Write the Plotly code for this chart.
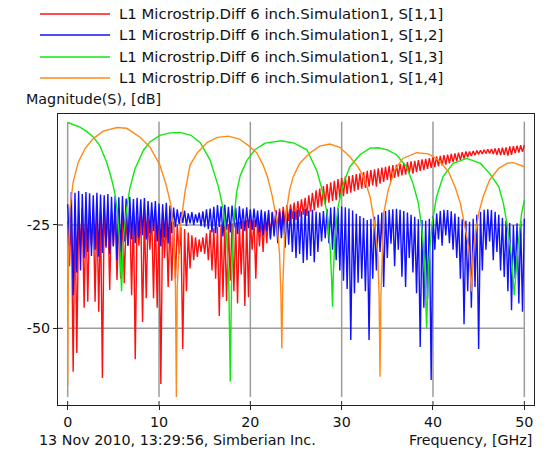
import numpy as np
import plotly.graph_objects as go

# ---------------------------------------------------------------------------
# Data: magnitude of S-parameters, dB, versus frequency, GHz
# ---------------------------------------------------------------------------
SERIES_NAMES = [
    "L1 Microstrip.Diff 6 inch.Simulation1, S[1,1]",
    "L1 Microstrip.Diff 6 inch.Simulation1, S[1,2]",
    "L1 Microstrip.Diff 6 inch.Simulation1, S[1,3]",
    "L1 Microstrip.Diff 6 inch.Simulation1, S[1,4]",
]
SERIES_COLORS = ["#ff1010", "#1010ff", "#10e810", "#ff8a1a"]

# S[1,1] and S[1,2] ripple: local maxima every 0.4 GHz starting at 0 GHz,
# local minima every 0.4 GHz starting at 0.2 GHz
RIPPLE_STEP_GHZ = 0.4

S11_MAX = [
    -24, -21, -20.5, -22, -21, -20.8, -22, -21.2, -20.6, -21.5,
    -21, -20.5, -22, -21.5, -22.5, -21.8, -23, -22.2, -21.6, -23,
    -22.5, -21.8, -23, -22.2, -21.5, -22.8, -22, -23, -23.5, -24.2,
    -24.8, -25.5, -26, -26.8, -27.5, -28, -28.5, -28, -27, -26.2,
    -25.8, -25.4, -25, -25.2, -24.8, -24.6, -24.4, -24.2, -24, -23.8,
    -23.5, -23.8, -23.2, -23, -22.6, -22.2, -21.8, -21.4, -21, -20.6,
    -20.2, -20, -19.6, -19.2, -18.8, -18.4, -17.8, -17.2, -16.6, -16.2,
    -15.6, -15.1, -14.7, -14.3, -13.9, -13.6, -13.3, -13.1, -12.9, -12.7,
    -12.5, -12.2, -11.9, -11.7, -11.5, -11.3, -11.1, -10.9, -10.7, -10.5,
    -10.4, -10.2, -10, -9.8, -9.6, -9.5, -9.3, -9.1, -9, -8.8,
    -8.6, -8.4, -8.3, -8.1, -8, -7.8, -7.7, -7.5, -7.4, -7.2,
    -7.2, -7.1, -7, -6.9, -6.8, -6.7, -6.6, -6.5, -6.4, -6.3,
    -6.2, -6, -5.9, -5.8, -5.7, -5.6,
]
S11_MIN = [
    -35, -60.5, -56, -30, -45, -43.6, -30, -43.6, -46, -62,
    -30, -40.7, -30, -38.3, -38, -39.1, -30, -42, -57.5, -30,
    -48.5, -42.7, -31, -42.7, -45, -63.5, -33, -40, -38.5, -38,
    -32, -55, -41, -35.5, -33.5, -32.7, -31.5, -32, -33.5, -36,
    -38, -47, -42.4, -43.4, -38.5, -41, -44, -37, -44.6, -42.5,
    -31, -38, -30.2, -31.5, -29.4, -28, -27, -26.2, -25.5, -24.8,
    -24, -23.5, -23.8, -23, -22.5, -22.8, -21.8, -21.5, -20.8, -20.5,
    -20, -19.6, -19.2, -19, -18.4, -18, -17.5, -17.2, -16.8, -16.5,
    -16.2, -16, -15.7, -15.4, -15.7, -15, -14.6, -14.1, -14.4, -13.6,
    -13.3, -13, -12.8, -12.5, -12.6, -12.2, -11.9, -11.7, -11.4, -11.2,
    -11, -10.8, -10.6, -10.4, -10.1, -9.8, -9.6, -9.3, -8.9, -8.6,
    -8.3, -8.1, -7.9, -7.8, -7.7, -7.7, -7.8, -8, -8.1, -8,
    -8.2, -8, -7.6, -7.5, -7.3,
]

S12_MAX = [
    -20, -17, -17.2, -16.8, -17.5, -17, -17.3, -17.8, -17.2, -17.6,
    -17.8, -17.5, -18.2, -17.9, -18.3, -18, -18.6, -18.2, -18.7, -18.4,
    -18.8, -18.5, -19.2, -19.5, -19.2, -19.8, -20, -19.6, -20.3, -20.8,
    -21.2, -21.8, -21.5, -22.2, -21.9, -22.4, -22, -21.7, -21.2, -21,
    -20.6, -20.2, -20.5, -20.1, -20.6, -20.3, -20.8, -20.5, -21, -20.7,
    -21.2, -21, -21.5, -21.3, -21.7, -21.4, -21.9, -21.5, -21.8, -21.6,
    -21.5, -21.2, -21.6, -21.3, -21.7, -21.1, -21.5, -21.3, -21.8, -22,
    -21.6, -21.2, -20.8, -20.6, -20.9, -20.5, -20.7, -21, -21.5, -22.3,
    -22.8, -23.3, -23.8, -23.5, -23, -22.5, -22, -21.6, -21.3, -21.2,
    -21.1, -21.3, -21.6, -22, -22.5, -23, -23.6, -23.8, -24, -23.5,
    -22.8, -22.2, -21.6, -21.3, -21.4, -21.7, -22.2, -23, -23.6, -24,
    -24.2, -23.5, -22.5, -21.8, -21.3, -21.2, -21.4, -21.8, -22.5, -23.3,
    -24, -24.5, -25, -24.6, -24, -23.5,
]
S12_MIN = [
    -30, -42, -36.5, -36, -33, -31.5, -32.5, -31, -32.7, -31.8,
    -30.5, -32, -30.2, -33.5, -31.5, -29, -30, -28.5, -29.4, -28,
    -27.5, -28.5, -27, -26.5, -29, -30.2, -28, -29.5, -27, -25.5,
    -24.8, -24.5, -25.2, -24.6, -25, -24.4, -25.3, -25.5, -26, -26.8,
    -27, -25.5, -27.8, -26.2, -26.8, -25.6, -27.2, -26, -26.5, -25.8,
    -26.2, -25.5, -26.8, -27.5, -26.5, -28.5, -27.8, -29.4, -28.2, -30.5,
    -29.8, -31.5, -33, -32, -34.2, -33.5, -32.5, -34, -31.5, -29,
    -28.2, -29.4, -31, -33.5, -36, -38.5, -40.5, -52.8, -41.5, -39,
    -38, -41, -52.8, -38, -36, -31.5, -40, -33, -29.5, -35,
    -31, -37.5, -40, -33, -36.5, -41.5, -54.5, -45, -43, -62.5,
    -31, -28.5, -30, -27.5, -29.4, -31, -33, -38, -49, -41,
    -45, -40, -55, -36, -31, -29, -33.5, -31.5, -36, -37.6,
    -41, -45.6, -38, -44, -46,
]

# S[1,3] and S[1,4]: smooth curves with periodic nulls
S13_F = [
    0, 0.7, 1.35, 2.1, 2.8, 3.5, 4.27, 4.8, 5.2, 5.45,
    5.65, 5.8, 5.9, 6.0, 6.15, 6.46, 6.8, 7.37, 8.3, 9.0,
    10.1, 11.2, 12.3, 13.5, 14.5, 15.6, 16.5, 17.05, 17.4, 17.65,
    17.8, 17.95, 18.15, 18.5, 18.9, 19.6, 20.5, 21.6, 23.4, 24.8,
    26.2, 27.3, 27.8, 28.4, 28.75, 28.9, 29.0, 29.1, 29.3, 29.6,
    30.2, 30.9, 32.0, 33.1, 34.0, 35.0, 36.0, 37.1, 37.8, 38.4,
    38.8, 39.1, 39.3, 39.5, 39.9, 40.4, 41.1, 42.2, 43.7, 45.2,
    46.2, 47.2, 47.7, 48.1, 48.6, 48.9, 49.3, 49.7, 50.0,
]
S13_DB = [
    -0.2, -0.7, -1.3, -2.4, -3.7, -5.7, -9.8, -13.8, -17.7, -22,
    -28, -35, -41, -35, -27, -21, -16.2, -11.4, -6.9, -4.9,
    -3.3, -2.7, -2.6, -3.3, -5, -9.3, -15.7, -21.4, -27.8, -40,
    -62.9, -38, -25, -17, -13, -9.5, -6.8, -5.2, -4.6, -5.2,
    -6.8, -12, -16, -22, -31, -38, -44.8, -36, -27, -20.6,
    -14.9, -10.9, -8, -6.4, -6.3, -6.8, -8, -10.9, -14.9, -19.7,
    -26.2, -35, -50, -35, -24.6, -18.1, -13.3, -10.1, -8.9, -10.1,
    -12.5, -15.7, -19.7, -24.6, -32.7, -42, -30.2, -22.2, -19,
]

S14_F = [
    0, 0.08, 0.25, 0.6, 1.16, 1.9, 2.8, 3.9, 5.4, 6.46,
    7.9, 9.0, 10.1, 10.8, 11.3, 11.6, 11.8, 11.9, 12.0, 12.3,
    12.85, 13.4, 14.2, 15.3, 16.4, 17.6, 18.8, 19.8, 20.7, 21.4,
    21.9, 22.4, 22.9, 23.2, 23.35, 23.45, 23.55, 23.75, 24.0, 24.3,
    24.7, 25.4, 26.5, 27.6, 28.7, 29.8, 30.9, 31.8, 32.4, 33.1,
    33.6, 33.95, 34.1, 34.2, 34.3, 34.45, 34.6, 35.1, 35.8, 36.7,
    38.2, 39.5, 40.6, 41.7, 42.4, 43.0, 43.5, 43.9, 44.2, 44.4,
    44.6, 45.0, 45.5, 46.2, 47.2, 48.1, 48.8, 50.0,
]
S14_DB = [
    -64, -35, -21, -14.6, -9.8, -6.5, -4.1, -2.3, -1.4, -1.6,
    -3.7, -6.1, -10.5, -15.4, -20.2, -27, -40, -66.6, -40, -26,
    -17, -10.5, -7.5, -5, -3.8, -3.5, -4.2, -5.8, -7.5, -10.5,
    -13.5, -18, -24, -32, -42, -54.9, -40, -28, -21, -16.5,
    -13.3, -10.1, -7.6, -5.9, -5.4, -6.2, -8.5, -11, -13.3, -18.1,
    -24.6, -32, -42, -61.7, -42, -30, -22.2, -16.5, -11.7, -8.9,
    -7.5, -7.8, -9.3, -12.1, -15.7, -19.7, -25.4, -30.2, -41.1, -32,
    -27.8, -22.2, -18.1, -14.1, -11.3, -10.1, -9.9, -10.9,
]

# Axis ticks and extents of the data box
X_TICKS = [0, 10, 20, 30, 40, 50]
Y_TICKS = [-25, -50]
X_DATA = (0, 50)
Y_DATA = (-66.6, 0)
X_RANGE = (-1.06, 51.06)
Y_RANGE = (-68.56, 1.86)

TEXT_DATE = "13 Nov 2010, 13:29:56, Simberian Inc."
TEXT_XLABEL = "Frequency, [GHz]"
TEXT_YLABEL = "Magnitude(S), [dB]"


def ripple(maxima, minima, step):
    """Interleave local maxima and minima into one swept trace."""
    f, v = [], []
    for i, hi in enumerate(maxima):
        f.append(i * step)
        v.append(hi)
        if i < len(minima):
            f.append(i * step + step / 2)
            v.append(minima[i])
    return f, v


# ---------------------------------------------------------------------------
# Figure geometry (pixels)
# ---------------------------------------------------------------------------
W, H = 553, 456
PL, PR, PT, PB = 58, 534, 114, 405          # plot frame
FONT = "DejaVu Sans"
FS = 14.3          # axis texts
FS_LEG = 14.9      # legend entries


def px(x):
    return (x - PL) / (PR - PL)


def py(y):
    return (PB - y) / (PB - PT)


fig = go.Figure()

curves = [
    ripple(S11_MAX, S11_MIN, RIPPLE_STEP_GHZ),
    ripple(S12_MAX, S12_MIN, RIPPLE_STEP_GHZ),
    (S13_F, S13_DB),
    (S14_F, S14_DB),
]
for (f, v), name, col in zip(curves, SERIES_NAMES, SERIES_COLORS):
    fig.add_trace(go.Scatter(x=f, y=v, mode="lines", name=name,
                             line=dict(color=col, width=1.4),
                             showlegend=False, hoverinfo="skip"))

shapes = []
# grid inside the data box
for xv in X_TICKS:
    shapes.append(dict(type="line", xref="x", yref="y", x0=xv, x1=xv,
                       y0=Y_DATA[0], y1=Y_DATA[1], layer="below",
                       line=dict(color="#9c9c9c", width=1.5)))
for yv in Y_TICKS:
    shapes.append(dict(type="line", xref="x", yref="y", x0=X_DATA[0], x1=X_DATA[1],
                       y0=yv, y1=yv, layer="below",
                       line=dict(color="#9c9c9c", width=1.5)))
# inner halves of the tick marks
for xv in X_TICKS:
    shapes.append(dict(type="line", xref="x", yref="paper", x0=xv, x1=xv,
                       y0=0, y1=4 / (PB - PT), line=dict(color="#222", width=1)))
for yv in Y_TICKS:
    shapes.append(dict(type="line", xref="paper", yref="y", x0=0, x1=5 / (PR - PL),
                       y0=yv, y1=yv, line=dict(color="#222", width=1)))

annotations = []
# legend block
LEG_ROWS = [14, 35, 57, 78]
for name, col, yy in zip(SERIES_NAMES, SERIES_COLORS, LEG_ROWS):
    shapes.append(dict(type="line", xref="paper", yref="paper",
                       x0=px(40), x1=px(110), y0=py(yy), y1=py(yy),
                       line=dict(color=col, width=1.5)))
    annotations.append(dict(text=name, xref="paper", yref="paper",
                            x=px(117), y=py(yy), xanchor="left", yanchor="middle",
                            showarrow=False, font=dict(family=FONT, size=FS_LEG, color="#111")))

annotations.append(dict(text=TEXT_YLABEL, xref="paper", yref="paper",
                        x=px(24), y=py(99), xanchor="left", yanchor="middle",
                        showarrow=False, font=dict(family=FONT, size=FS, color="#111")))
annotations.append(dict(text=TEXT_DATE, xref="paper", yref="paper",
                        x=px(37), y=py(440), xanchor="left", yanchor="middle",
                        showarrow=False, font=dict(family=FONT, size=FS, color="#111")))
annotations.append(dict(text=TEXT_XLABEL, xref="paper", yref="paper",
                        x=px(534), y=py(440), xanchor="right", yanchor="middle",
                        showarrow=False, font=dict(family=FONT, size=FS, color="#111")))

axis_common = dict(showgrid=False, zeroline=False, showline=True, linecolor="#222",
                   linewidth=1, mirror=True, ticks="outside", ticklen=4,
                   tickcolor="#222", tickwidth=1,
                   tickfont=dict(family=FONT, size=FS, color="#111"))

fig.update_layout(
    width=W, height=H,
    margin=dict(l=PL, r=W - PR, t=PT, b=H - PB, pad=0),
    paper_bgcolor="white", plot_bgcolor="white",
    showlegend=False,
    xaxis=dict(range=list(X_RANGE), tickvals=X_TICKS,
               ticktext=[str(v) for v in X_TICKS], **axis_common),
    yaxis=dict(range=list(Y_RANGE), tickvals=Y_TICKS,
               ticktext=[str(v) for v in Y_TICKS], **axis_common),
    shapes=shapes,
    annotations=annotations,
)

fig.write_html("out.html")
